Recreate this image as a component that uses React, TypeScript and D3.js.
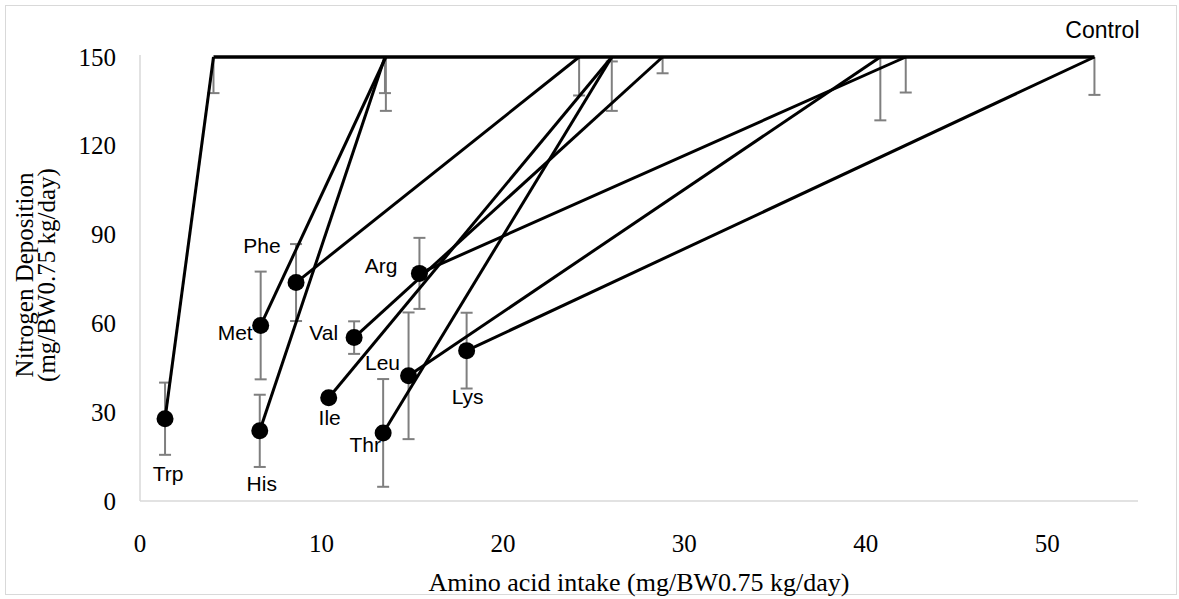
import React from 'react';
import { scaleLinear, line } from 'd3';

// amino acid deficient diets, each joined to the control diet's intake of that acid
const acids = ['Trp', 'His', 'Met', 'Phe', 'Val', 'Ile', 'Arg', 'Leu', 'Thr', 'Lys'];
const deficientIntake = [1.38, 6.6, 6.65, 8.6, 11.8, 10.4, 15.4, 14.8, 13.4, 18.0];
const deficientN = [27.8, 23.7, 59.3, 73.8, 55.2, 34.9, 76.9, 42.3, 23.0, 50.8];
const controlIntake = [4.05, 13.5, 13.55, 24.2, 28.8, 26.0, 42.2, 40.8, 26.0, 52.6];
const controlN = 150;
const sem = [12.2, 12.2, 18.2, 13.0, 5.5, 1.5, 12.0, 21.4, 18.2, 12.8];

const xTicks = [0, 10, 20, 30, 40, 50];
const yTicks = [0, 30, 60, 90, 120, 150];

// label placement around each dot (px)
const labelOffset: Record<string, { dx: number; dy: number; anchor: string }> = {
  Trp: { dx: 3, dy: 55, anchor: 'middle' },
  His: { dx: 2, dy: 53, anchor: 'middle' },
  Met: { dx: -8, dy: 7, anchor: 'end' },
  Phe: { dx: -34, dy: -37, anchor: 'middle' },
  Val: { dx: -16, dy: -5, anchor: 'end' },
  Ile: { dx: 1, dy: 20, anchor: 'middle' },
  Arg: { dx: -22, dy: -8, anchor: 'end' },
  Leu: { dx: -26, dy: -13, anchor: 'middle' },
  Thr: { dx: -18, dy: 12, anchor: 'middle' },
  Lys: { dx: 1, dy: 46, anchor: 'middle' },
};

const W = 1179;
const H = 599;
const left = 140;
const right = 1138;
const top = 57;
const bottom = 501;

const App = () => {
  const x = scaleLinear().domain([0, 55]).range([left, right]);
  const y = scaleLinear().domain([0, 150]).range([bottom, top]);

  const seg = line<[number, number]>()
    .x(d => x(d[0]))
    .y(d => y(d[1]));

  const controlPts: [number, number][] = controlIntake
    .slice()
    .sort((a, b) => a - b)
    .map(v => [v, controlN]);

  const errBar = (cx: number, cy: number, e: number, key: string) => {
    const lo = cy - e;
    const hi = Math.min(cy + e, 150);
    const px = x(cx);
    return (
      <g key={key} stroke="#7f7f7f" strokeWidth={2}>
        <line x1={px} x2={px} y1={y(lo)} y2={y(hi)} />
        <line x1={px - 6} x2={px + 6} y1={y(lo)} y2={y(lo)} />
        {cy + e <= 150 && <line x1={px - 6} x2={px + 6} y1={y(hi)} y2={y(hi)} />}
      </g>
    );
  };

  return (
    <div style={{ position: 'absolute', left: 0, top: 0 }}>
      <svg width={W} height={H} style={{ display: 'block', background: '#fff' }}>
        <rect x={5.5} y={5.5} width={1171} height={589} fill="none" stroke="#d9d9d9" />

        {/* axes */}
        <line x1={left} x2={left} y1={top - 2} y2={bottom} stroke="#d9d9d9" strokeWidth={1.5} />
        <line x1={left} x2={right} y1={bottom} y2={bottom} stroke="#d9d9d9" strokeWidth={1.5} />

        {yTicks.map(t => (
          <text key={'y' + t} x={116} y={y(t)} textAnchor="end" dominantBaseline="central"
            fontFamily="'Liberation Serif', serif" fontSize={25} fill="#000">{t}</text>
        ))}
        {xTicks.map(t => (
          <text key={'x' + t} x={x(t)} y={543} textAnchor="middle" dominantBaseline="central"
            fontFamily="'Liberation Serif', serif" fontSize={25} fill="#000">{t}</text>
        ))}
        <text x={(left + right) / 2} y={582} textAnchor="middle" dominantBaseline="central"
          fontFamily="'Liberation Serif', serif" fontSize={26} fill="#000">
          Amino acid intake (mg/BW0.75 kg/day)
        </text>
        <g transform={`translate(0, ${(top + bottom) / 2 - 4}) rotate(-90)`}
          fontFamily="'Liberation Serif', serif" fontSize={25} fill="#000" textAnchor="middle">
          <text x={0} y={24} dominantBaseline="central">Nitrogen Deposition</text>
          <text x={0} y={46} dominantBaseline="central">(mg/BW0.75 kg/day)</text>
        </g>

        {/* error bars */}
        {acids.map((a, i) => errBar(deficientIntake[i], deficientN[i], sem[i], 'ed' + a))}
        {acids.map((a, i) => errBar(controlIntake[i], controlN, sem[i], 'ec' + a))}

        {/* response lines */}
        {acids.map((a, i) => (
          <path key={'l' + a}
            d={seg([[deficientIntake[i], deficientN[i]], [controlIntake[i], controlN]]) || ''}
            fill="none" stroke="#000" strokeWidth={3} />
        ))}
        <path d={seg(controlPts) || ''} fill="none" stroke="#000" strokeWidth={3.5} />

        {/* deficient points */}
        {acids.map((a, i) => (
          <circle key={'c' + a} cx={x(deficientIntake[i])} cy={y(deficientN[i])} r={8.5} fill="#000" />
        ))}

        {/* labels */}
        <g fontFamily="'Liberation Sans', Arial, sans-serif" fontSize={21} fill="#000">
          {acids.map((a, i) => {
            const o = labelOffset[a];
            return (
              <text key={'t' + a} x={x(deficientIntake[i]) + o.dx} y={y(deficientN[i]) + o.dy}
                textAnchor={o.anchor} dominantBaseline="central">{a}</text>
            );
          })}
          <text x={x(controlIntake[9]) + 8} y={y(controlN) - 27} textAnchor="middle"
            dominantBaseline="central" fontSize={23}>Control</text>
        </g>
      </svg>
    </div>
  );
};

export default App;
